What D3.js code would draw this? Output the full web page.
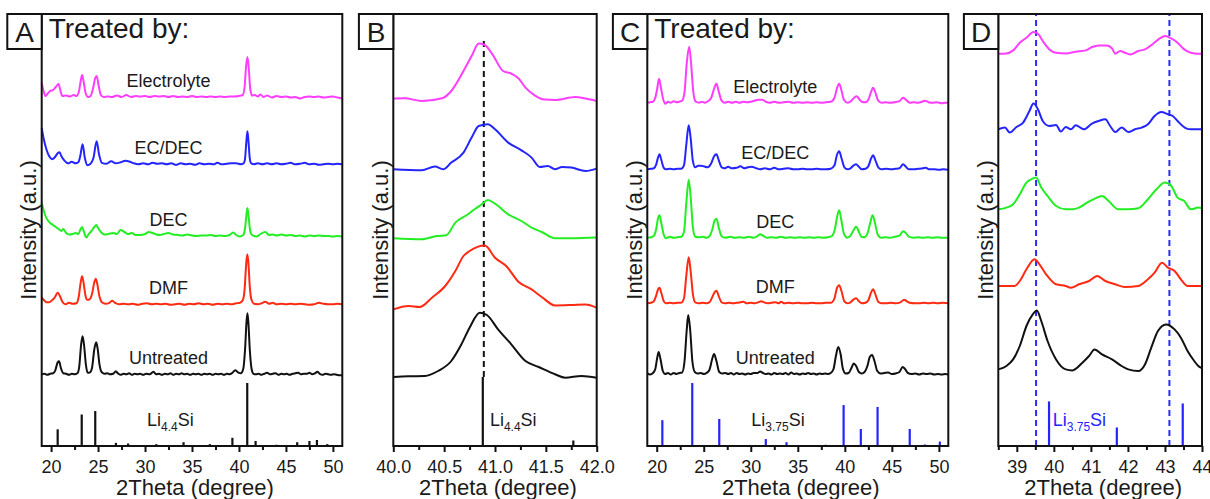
<!DOCTYPE html>
<html>
<head>
<meta charset="utf-8">
<script src="https://cdn.jsdelivr.net/npm/d3@7"></script>
<style>
body { margin: 0; background: #fff; }
svg text { font-family: Arial, "Liberation Sans", sans-serif; fill: #1a1a1a; }
</style>
</head>
<body>
<svg id="chart" width="1210" height="499"></svg>
<script>
// Échantillons (du haut vers le bas)
const sampleNames = ['Electrolyte', 'EC/DEC', 'DEC', 'DMF', 'Untreated'];
const sampleColors = ['#ff3dff', '#2424ff', '#22ee22', '#ff2a12', '#111111'];

// Décalages verticaux des courbes (unités d'intensité arbitraires)
const offsetsA = [349, 281.7, 210, 141.7, 71.7];
const offsetsB = [346.7, 276.7, 206.7, 138.3, 69];
const offsetsC = [343.3, 276.7, 208.3, 142.7, 72];
const offsetsD = [392.3, 316.7, 236.7, 160, 78.3];

// Raies de référence [2theta, intensité relative]
const li44Sticks = [[20.7,26.5],[23.26,50],[24.7,55.5],[26.9,5],[28.2,4],[31.2,3],[34.1,6],[36.9,3],[39.3,13],[40.88,100],[41.77,8],[44.0,2],[46.2,6],[47.5,8],[48.3,9.5],[49.4,3]];
const li375Sticks = [[20.6,41],[23.78,100],[26.65,43],[31.6,11],[33.8,6],[37.96,2],[39.87,65],[41.7,27],[43.48,62],[46.9,27],[48.5,2.5],[50.1,7]];
const dashB = [40.89];
const dashD = [39.52, 43.12];

// Graduations
const ticksAC = [20, 25, 30, 35, 40, 45, 50];
const minorAC = [22.5, 27.5, 32.5, 37.5, 42.5, 47.5];
const ticksB = [40.0, 40.5, 41.0, 41.5, 42.0];
const minorB = [40.25, 40.75, 41.25, 41.75];
const ticksD = [39, 40, 41, 42, 43, 44];
const minorD = [38.5, 39.5, 40.5, 41.5, 42.5, 43.5];

// Panneau A : diagrammes larges (Li4.4Si)
const aMagenta = [[19.0,14],[19.2,6],[19.4,1],[19.6,3],[19.9,6],[20.2,7],[20.5,10],[20.8,13],[21.0,6],[21.2,1],[21.6,1.5],[22.0,0.5],[22.4,2],[22.7,1],[22.95,5],[23.15,16],[23.3,22],[23.45,16],[23.7,3],[23.95,0],[24.2,1],[24.45,8],[24.7,19],[24.85,21],[25.05,12],[25.3,2],[25.6,0],[26.0,0.5],[26.5,0],[27.0,1.5],[27.5,0],[28.0,2],[28.5,0],[29.0,1],[29.5,0.5],[30.0,1],[30.5,0],[31.0,1],[31.5,0.5],[32.0,1],[32.5,0],[33.0,1],[33.5,0],[34.0,0.5],[34.5,0],[35.0,1],[35.5,0],[36.0,0.5],[36.5,0],[37.0,0.5],[37.5,0],[38.0,0.5],[38.5,0],[39.0,0.5],[39.5,0.5],[40.0,1],[40.4,2],[40.6,10],[40.75,30],[40.9,40],[41.05,28],[41.2,8],[41.4,1.5],[41.7,2],[42.0,0.5],[42.3,2.5],[42.6,0],[43.0,1.5],[43.5,-0.5],[44.0,1],[44.5,0],[45.0,0.5],[45.5,-0.5],[46.0,0],[46.5,-1.5],[47.0,0],[47.5,0.5],[48.0,0],[48.5,0.5],[49.0,-0.5],[49.5,0],[50.0,0.5],[50.5,-0.5],[51.0,-1.5]];
const aBlue = [[19.0,36],[19.2,26],[19.5,15],[19.8,8],[20.1,5],[20.4,7],[20.7,11],[20.9,12],[21.1,8],[21.4,4],[21.8,1],[22.2,2.5],[22.6,1],[22.9,2],[23.1,8],[23.35,20],[23.6,6],[23.85,-1],[24.2,0.5],[24.5,6],[24.85,23],[25.1,10],[25.4,1.5],[25.9,0.5],[26.4,3],[26.9,1],[27.4,2],[27.9,3.5],[28.4,2.5],[28.8,1],[29.3,0],[29.8,1],[30.3,0],[30.8,1.5],[31.3,0.5],[31.8,1],[32.3,0],[32.8,1],[33.3,-0.5],[33.8,1],[34.3,0],[34.8,0.5],[35.3,-0.5],[35.8,1],[36.3,0],[36.8,0.5],[37.3,0],[37.7,1.5],[38.2,0],[38.7,0.5],[39.2,1],[39.7,1],[40.2,0],[40.5,1],[40.65,6],[40.78,22],[40.9,33],[41.02,22],[41.15,6],[41.3,1],[41.6,0],[42.0,1],[42.5,0],[43.0,1],[43.5,0],[44.0,1],[44.5,0],[45.0,0.5],[45.5,1.5],[46.0,0],[46.5,0.5],[47.0,1.5],[47.5,0],[48.0,0.5],[48.5,-0.5],[49.0,0],[49.5,0.5],[50.0,0],[50.5,0.5],[51.0,0]];
const aGreen = [[19.0,33],[19.2,26],[19.4,20],[19.7,15],[19.9,13],[20.2,11],[20.5,9],[20.8,7],[21.1,5],[21.3,7],[21.6,3],[21.9,1.5],[22.3,2],[22.6,3],[22.9,2],[23.1,6],[23.3,9],[23.5,4],[23.75,-1.5],[24.0,2],[24.3,5],[24.6,9],[24.8,11],[25.0,8],[25.3,4],[25.7,1.5],[26.1,2],[26.6,3],[27.0,2],[27.4,6],[27.8,4],[28.2,2],[28.6,3],[29.0,1],[29.5,1],[30.0,2],[30.4,4],[30.8,3],[31.2,1.5],[31.6,1],[32.0,2],[32.5,3],[33.0,1.5],[33.5,1],[34.0,0.5],[34.5,1.5],[35.0,0.5],[35.5,0],[36.0,0.5],[36.5,0.5],[37.0,1],[37.5,0],[38.0,0.5],[38.5,0],[39.0,1],[39.4,3.5],[39.7,1],[40.1,-0.5],[40.45,1],[40.65,8],[40.78,20],[40.9,28],[41.02,20],[41.15,8],[41.3,2],[41.6,0],[41.9,-0.5],[42.3,2],[42.8,4],[43.2,1],[43.6,1.5],[44.0,0.5],[44.5,1.5],[45.0,0.5],[45.5,1],[46.0,0],[46.5,0.5],[47.0,-0.5],[47.5,0.5],[48.0,0],[48.5,0.5],[49.0,0],[49.5,0],[50.0,-0.5],[50.5,0],[51.0,-0.5]];
const aRed = [[19.0,7],[19.25,4],[19.5,2],[19.8,2],[20.1,4],[20.4,7],[20.7,11.5],[20.95,8],[21.2,2.5],[21.5,0],[21.9,1.5],[22.3,0.5],[22.7,1],[22.95,8],[23.15,22],[23.3,28],[23.45,22],[23.65,9],[23.85,4.5],[24.1,5],[24.35,10],[24.6,22],[24.75,25.5],[24.9,21],[25.15,8],[25.4,2],[25.8,0.5],[26.2,1.5],[26.5,3.5],[26.8,1.5],[27.2,0],[27.7,0.5],[28.2,0],[28.7,0.5],[29.2,-0.5],[29.7,0.5],[30.2,1],[30.7,0],[31.2,0.5],[31.7,0],[32.2,0.5],[32.7,-0.5],[33.2,0],[33.7,0.5],[34.2,-0.5],[34.7,0.5],[35.2,0],[35.7,1],[36.2,0],[36.7,0.5],[37.2,-0.5],[37.7,0.5],[38.2,0],[38.7,0.5],[39.2,0],[39.7,1],[40.1,1.5],[40.4,4],[40.6,15],[40.75,38],[40.88,50],[41.0,42],[41.15,18],[41.35,4],[41.6,0.5],[42.0,0],[42.4,1],[42.8,2.5],[43.2,0.5],[43.6,1.5],[44.0,0],[44.5,0.5],[45.0,0],[45.5,0.5],[46.0,0],[46.5,0.5],[47.0,0],[47.5,-0.5],[48.0,0],[48.5,1.5],[49.0,0.5],[49.5,0],[50.0,0],[50.5,0.5],[51.0,0]];
const aBlack = [[19.0,0],[19.3,0.5],[19.6,-0.5],[19.9,0.5],[20.2,1],[20.45,4],[20.7,12],[20.85,13],[21.05,6],[21.3,1],[21.6,0.5],[21.9,-0.5],[22.2,0.5],[22.5,0],[22.8,1],[23.0,8],[23.2,30],[23.35,38],[23.5,30],[23.7,10],[23.9,1.5],[24.15,2],[24.35,6],[24.6,25],[24.8,32],[24.95,26],[25.15,10],[25.4,2],[25.7,0.5],[26.0,1],[26.3,0],[26.6,0.5],[26.9,3],[27.1,1],[27.4,-0.5],[27.7,0.5],[28.0,0],[28.3,1],[28.6,-0.5],[28.9,0.5],[29.2,0],[29.5,0.5],[29.8,-0.5],[30.1,0.5],[30.5,0],[30.9,2.5],[31.2,0],[31.5,0.5],[31.8,-0.5],[32.1,0.5],[32.4,0],[32.7,1],[33.0,-0.5],[33.3,0.5],[33.6,0],[33.9,1],[34.2,0],[34.5,0.5],[34.8,-0.5],[35.1,0.5],[35.4,0],[35.7,0.5],[36.0,-0.5],[36.3,0.5],[36.6,0],[36.9,0.5],[37.2,-0.5],[37.5,0.5],[37.8,0],[38.1,0.5],[38.4,-0.5],[38.7,0.5],[39.0,0],[39.3,1.5],[39.6,4],[39.9,2],[40.2,1],[40.45,5],[40.65,25],[40.8,52],[40.9,61],[41.0,52],[41.15,25],[41.35,5],[41.55,0.5],[41.8,0],[42.1,0.5],[42.4,-0.5],[42.7,0.5],[43.0,1.5],[43.3,0],[43.6,0.5],[43.9,1],[44.2,-0.5],[44.5,0.5],[44.8,0],[45.1,0.5],[45.4,-0.5],[45.7,0.5],[46.0,1],[46.3,1.5],[46.6,0],[46.9,0.5],[47.2,0.5],[47.5,1.5],[47.8,0],[48.1,1],[48.35,2.5],[48.6,0.5],[48.9,-0.5],[49.2,0.5],[49.5,0],[49.8,-0.5],[50.1,0],[50.4,-0.5],[50.7,-1],[51.0,-1]];

// Panneau B : zoom 40-42°
const bMagenta = [[40.0,0.7],[40.11,1],[40.28,-1.7],[40.48,1],[40.57,8.3],[40.69,28.3],[40.77,43.3],[40.84,55.7],[40.9,54.3],[40.97,45.7],[41.08,28.3],[41.16,25.7],[41.23,21],[41.3,11.7],[41.39,4],[41.49,-0.3],[41.59,-0.7],[41.79,2.3],[41.89,0.7],[42.0,-1.7]];
const bBlue = [[40.0,0],[40.28,-1],[40.41,2.7],[40.49,0],[40.57,6.7],[40.69,16.7],[40.77,31.7],[40.84,43.3],[40.93,45],[41.0,40],[41.13,26.7],[41.26,19],[41.36,11.7],[41.44,2.3],[41.52,3.3],[41.59,0],[41.66,2.3],[41.75,1.7],[41.89,-1.7],[42.0,0.7]];
const bGreen = [[40.0,1],[40.28,0],[40.43,3.3],[40.52,4],[40.61,16.7],[40.72,24],[40.8,30],[40.87,35],[40.93,39.3],[41.0,35.7],[41.13,25],[41.26,18.3],[41.36,11.7],[41.46,7.3],[41.59,1],[41.75,1],[42.0,1.7]];
const bRed = [[40.0,-1.7],[40.15,1.7],[40.26,0.7],[40.38,10],[40.51,21.7],[40.61,36.7],[40.69,51.7],[40.75,56.7],[40.9,62.3],[41.0,50],[41.11,41.7],[41.23,26],[41.36,18.3],[41.46,10.7],[41.59,2.3],[41.75,2.7],[41.89,3.3],[42.0,0]];
const bBlack = [[40.0,0],[40.15,0.7],[40.31,1],[40.44,6],[40.57,16],[40.67,32.7],[40.75,49.3],[40.85,64.3],[40.92,62],[41.03,47.7],[41.16,32.7],[41.3,16],[41.43,10],[41.59,2.7],[41.69,-0.7],[41.85,1],[42.0,-0.7]];

// Panneau C : diagrammes larges (Li3.75Si)
const cMagenta = [[19.0,0],[19.3,0.5],[19.6,1],[19.85,5],[20.05,14],[20.25,24],[20.45,15],[20.7,3],[20.95,-1],[21.2,1],[21.5,0],[21.8,1.5],[22.1,0.5],[22.4,1],[22.7,2],[22.95,10],[23.2,40],[23.45,56],[23.65,40],[23.9,10],[24.15,1],[24.5,0],[24.8,1],[25.1,0],[25.45,1.5],[25.8,5],[26.1,14],[26.35,19],[26.6,11],[26.9,2],[27.2,0],[27.6,1],[28.0,0],[28.4,1],[28.8,0],[29.2,1],[29.6,0.5],[30.0,1],[30.4,2],[30.8,3],[31.2,3],[31.6,1],[32.0,0],[32.5,1],[33.0,0],[33.5,0.5],[34.0,1],[34.5,0],[35.0,0.5],[35.5,0],[36.0,0.5],[36.5,0],[37.0,0.5],[37.5,0],[38.0,0.5],[38.5,1],[38.9,5],[39.15,14],[39.4,19],[39.65,12],[39.9,3],[40.3,0],[40.7,2],[41.0,5],[41.25,6.5],[41.5,4],[41.8,1],[42.2,0.5],[42.5,3],[42.8,11],[43.0,15],[43.25,10],[43.55,2],[43.9,0],[44.3,0.5],[44.8,0],[45.3,0.5],[45.8,1.5],[46.2,5],[46.5,3],[46.9,0],[47.3,0.5],[47.8,0],[48.2,1],[48.5,2],[48.9,0.5],[49.3,0],[49.8,0.5],[50.3,-0.5],[50.7,0],[51.0,0]];
const cBlue = [[19.0,0],[19.4,0.5],[19.7,1],[19.95,5],[20.15,12],[20.3,15],[20.5,9],[20.75,1.5],[21.0,0],[21.4,0.5],[21.8,0],[22.2,0.5],[22.6,0.5],[22.9,4],[23.15,25],[23.4,44],[23.6,32],[23.85,8],[24.1,2],[24.4,3.5],[24.7,3.5],[25.0,3],[25.4,2],[25.8,6],[26.1,13],[26.35,15],[26.6,9],[26.9,2],[27.2,1],[27.6,2.5],[28.0,1],[28.5,1.5],[28.9,3],[29.3,1],[29.7,2],[30.1,2.5],[30.6,1],[31.0,0],[31.5,1],[32.0,0],[32.5,1.5],[33.0,0],[33.5,0.5],[34.0,1],[34.5,0],[35.0,0],[35.5,0.5],[36.0,0],[36.5,0],[37.0,0.5],[37.5,0],[38.0,0],[38.5,0.5],[38.9,4],[39.15,14],[39.4,18],[39.65,11],[39.95,2],[40.3,0],[40.6,1],[40.95,4],[41.2,5],[41.5,2.5],[41.8,0],[42.2,0.5],[42.5,3],[42.8,11],[43.0,14],[43.25,9],[43.55,2],[43.9,0],[44.4,0.5],[44.9,0],[45.4,0.5],[45.8,1],[46.2,5],[46.45,3],[46.8,0],[47.3,0],[47.8,0.5],[48.3,1],[48.6,1.5],[49.0,0],[49.5,0],[50.0,-0.5],[50.5,0],[51.0,-0.5]];
const cGreen = [[19.0,0],[19.4,0.5],[19.7,2],[19.95,9],[20.15,20],[20.3,22.5],[20.5,14],[20.75,3],[21.0,-0.5],[21.4,1],[21.8,0],[22.2,0.5],[22.6,1],[22.9,6],[23.15,35],[23.4,58],[23.6,42],[23.85,10],[24.1,1],[24.5,0.5],[24.9,1],[25.3,0],[25.6,1.5],[25.9,8],[26.15,17],[26.35,19],[26.6,10],[26.9,1.5],[27.3,0],[27.8,1],[28.3,0],[28.8,0.5],[29.3,0],[29.8,1],[30.3,0],[30.7,1.5],[31.0,3.5],[31.3,2],[31.7,0],[32.2,0.5],[32.7,0],[33.2,1],[33.7,0],[34.2,0.5],[34.7,0],[35.2,0.5],[35.7,0],[36.2,0.5],[36.7,0],[37.2,0.5],[37.7,0],[38.2,0.5],[38.6,1.5],[38.95,9],[39.2,22],[39.4,27.5],[39.6,19],[39.9,4],[40.25,0],[40.6,2],[40.95,8],[41.2,11],[41.45,7],[41.75,1],[42.1,0.5],[42.4,4],[42.7,15],[42.95,22.5],[43.2,15],[43.5,3],[43.85,0],[44.3,0.5],[44.8,0],[45.3,1],[45.8,2],[46.2,6.5],[46.45,5],[46.8,1],[47.3,0],[47.8,0.5],[48.3,0],[48.8,0.5],[49.3,0],[49.8,0.5],[50.3,0],[51.0,0]];
const cRed = [[19.0,0],[19.4,0.5],[19.7,2],[19.95,8],[20.15,14],[20.3,15.5],[20.5,10],[20.75,2],[21.0,0],[21.4,0.5],[21.8,0],[22.2,0.5],[22.6,0.5],[22.9,5],[23.15,28],[23.4,46],[23.6,33],[23.85,9],[24.1,1],[24.5,0],[24.9,0.5],[25.3,0],[25.6,1],[25.9,6],[26.15,11],[26.35,12.5],[26.6,7],[26.9,1],[27.3,0],[27.7,0.5],[28.1,0],[28.5,0.5],[28.9,1],[29.2,1.5],[29.6,0],[30.0,0.5],[30.4,0],[30.8,1],[31.1,2],[31.4,1],[31.8,0],[32.2,0.5],[32.6,1],[33.0,0],[33.2,1.5],[33.6,0],[34.0,0.5],[34.5,0],[35.0,0.5],[35.5,0],[36.0,0],[36.5,0.5],[37.0,0],[37.5,0],[38.0,0.5],[38.5,0.5],[38.9,5],[39.15,15],[39.4,18],[39.65,12],[39.95,2],[40.3,0],[40.6,1],[40.95,4],[41.2,5],[41.5,2],[41.8,0],[42.2,0.5],[42.5,3],[42.8,11],[43.0,14],[43.25,9],[43.55,1.5],[43.9,0],[44.4,0],[44.9,0.5],[45.4,0],[45.9,1],[46.3,3.5],[46.6,2],[46.9,0.5],[47.4,0],[47.9,0],[48.4,0.5],[48.9,0],[49.4,0.5],[49.9,0],[50.4,0.5],[51.0,0]];
const cBlack = [[19.0,0.5],[19.3,-0.5],[19.6,1],[19.85,5],[20.05,16],[20.2,22],[20.4,15],[20.65,3],[20.9,0],[21.2,1],[21.5,-0.5],[21.8,1],[22.1,0],[22.4,1],[22.7,1.5],[22.95,12],[23.2,45],[23.35,59],[23.55,45],[23.8,12],[24.05,2],[24.35,0.5],[24.7,1],[25.0,0],[25.3,1],[25.6,4],[25.9,15],[26.1,20],[26.35,13],[26.65,2],[26.95,0.5],[27.3,1],[27.6,0],[27.9,1],[28.2,-0.5],[28.5,1],[28.8,0],[29.1,0.5],[29.4,-0.5],[29.7,0.5],[30.0,0],[30.3,1],[30.7,1],[31.0,2.5],[31.3,1],[31.6,0],[31.9,0.5],[32.2,-0.5],[32.5,1],[32.8,0],[33.1,0.5],[33.4,0],[33.7,1],[34.0,-0.5],[34.3,1.5],[34.6,0],[34.9,0.5],[35.2,-0.5],[35.5,0.5],[35.8,0],[36.1,1],[36.4,0],[36.7,0.5],[37.0,-0.5],[37.3,0.5],[37.6,0],[37.9,0.5],[38.2,0],[38.5,1],[38.8,5],[39.05,18],[39.3,27],[39.55,20],[39.8,5],[40.1,0.5],[40.4,1],[40.7,6],[40.95,10.5],[41.2,8],[41.5,2],[41.8,0.5],[42.1,2],[42.4,8],[42.65,17],[42.9,19],[43.15,13],[43.45,3],[43.8,0.5],[44.2,1],[44.6,1.5],[45.0,0],[45.4,0.5],[45.8,2],[46.15,7],[46.4,5],[46.7,1],[47.1,0],[47.5,0.5],[47.9,-0.5],[48.3,0.5],[48.7,0],[49.1,0.5],[49.5,-0.5],[49.9,0],[50.3,-0.5],[50.7,0],[51.0,-0.5]];

// Panneau D : zoom 38.5-44°
const dMagenta = [[38.5,0],[38.72,0.3],[38.9,3.3],[39.08,11],[39.26,16],[39.45,21.7],[39.57,20],[39.7,12.7],[39.88,4.3],[40.06,1],[40.32,0.3],[40.59,2],[40.86,3.3],[41.03,6.7],[41.21,8.3],[41.43,8.3],[41.57,5.3],[41.66,0],[41.79,2.7],[41.92,1],[42.06,-0.7],[42.28,2.7],[42.46,4.3],[42.68,10],[42.86,15.3],[43.0,17.7],[43.17,15.3],[43.34,11],[43.52,4.3],[43.7,1],[43.9,0],[44.0,0]];
const dBlue = [[38.5,0],[38.68,1.7],[38.81,-3.3],[38.99,2.3],[39.17,6.7],[39.34,18.3],[39.45,25.7],[39.57,20],[39.7,8.3],[39.88,3.3],[40.06,4.3],[40.19,-2.3],[40.32,2.3],[40.46,0],[40.59,4],[40.81,0],[41.03,5.7],[41.21,8.3],[41.39,10],[41.52,3.3],[41.66,-2.7],[41.83,1.7],[42.01,-2.7],[42.19,0],[42.37,1.7],[42.54,5],[42.72,13.3],[42.9,17.3],[43.08,15],[43.21,13.3],[43.34,8.3],[43.57,1],[43.7,0],[44.0,0]];
const dGreen = [[38.5,0],[38.72,1.7],[38.9,5],[39.08,15],[39.26,26.7],[39.39,30],[39.52,31.7],[39.66,21.7],[39.83,13.3],[40.06,3.3],[40.32,0],[40.5,0],[40.68,1.7],[40.9,6.7],[41.12,11],[41.3,13.3],[41.48,8.3],[41.74,0],[42.01,0],[42.28,1],[42.54,10],[42.77,20],[43.0,26.7],[43.17,23.3],[43.34,11.7],[43.52,8.3],[43.7,0],[43.9,1.7],[44.0,1]];
const dRed = [[38.5,0],[38.94,0],[39.08,5],[39.26,16.7],[39.48,26.7],[39.61,21.7],[39.79,11.7],[40.06,1.7],[40.32,0],[40.46,-1.7],[40.68,1.7],[40.95,5],[41.17,10],[41.39,5],[41.66,1.7],[41.92,-1],[42.28,0],[42.54,6.7],[42.72,13.3],[42.92,23.3],[43.08,18.3],[43.26,15],[43.43,6.7],[43.61,0],[44.0,0]];
const dBlack = [[38.5,-1.7],[38.72,1.7],[38.9,8.3],[39.08,21.7],[39.26,41.7],[39.43,53.3],[39.54,57.3],[39.66,46.7],[39.83,26.7],[40.06,8.3],[40.32,-1.7],[40.5,-2.7],[40.77,5],[40.95,11.7],[41.1,18.3],[41.3,13.3],[41.57,8.3],[41.83,1.7],[42.01,-1.7],[42.28,-3.3],[42.46,3.3],[42.63,20],[42.81,36.7],[43.03,43.3],[43.26,38.3],[43.43,30],[43.61,16.7],[43.79,6.7],[43.9,1.7],[44.0,-0.5]];

// Mise en page
const plotTop = 14, plotBottom = 446;
const svg = d3.select('#chart');

const panels = [
    { letter: 'A', left: 41.7, right: 342.3, domain: [19, 51], ticks: ticksAC, minor: minorAC, fmt: d3.format('d'),
      series: [aMagenta, aBlue, aGreen, aRed, aBlack], offsets: offsetsA, treated: true, labelX: 32.5,
      sticks: li44Sticks, stickScale: 0.63, stickColor: '#111', phase: ['4.4', 'middle', 32.7] },
    { letter: 'B', left: 393.3, right: 596.7, domain: [40, 42], ticks: ticksB, minor: minorB, fmt: d3.format('.1f'),
      series: [bMagenta, bBlue, bGreen, bRed, bBlack], offsets: offsetsB, treated: false,
      sticks: li44Sticks, stickScale: 0.69, stickColor: '#111', phase: ['4.4', 'start', 40.95],
      dashes: dashB, dashColor: '#111', dashFrom: 69, dashTo: 405 },
    { letter: 'C', left: 647.3, right: 948.3, domain: [19, 51], ticks: ticksAC, minor: minorAC, fmt: d3.format('d'),
      series: [cMagenta, cBlue, cGreen, cRed, cBlack], offsets: offsetsC, treated: true, labelX: 32.6,
      sticks: li375Sticks, stickScale: 0.63, stickColor: '#2424ff', phase: ['3.75', 'middle', 32.9] },
    { letter: 'D', left: 998.3, right: 1202, domain: [38.5, 44], ticks: ticksD, minor: minorD, fmt: d3.format('d'),
      series: [dMagenta, dBlue, dGreen, dRed, dBlack], offsets: offsetsD, treated: false,
      sticks: li375Sticks, stickScale: 0.686, stickColor: '#2424ff', phase: ['3.75', 'start', 39.97], phaseColor: '#2424ff',
      dashes: dashD, dashColor: '#2a2aff', dashFrom: 0, dashTo: plotBottom - plotTop }
];

function drawPanel(p) {
    const x = d3.scaleLinear().domain(p.domain).range([p.left, p.right]);
    const y = d3.scaleLinear().domain([0, plotBottom - plotTop]).range([plotBottom, plotTop]);
    const g = svg.append('g');

    // Raies de référence
    const sticks = p.sticks.filter(d => d[0] >= p.domain[0] && d[0] <= p.domain[1]);
    g.selectAll('.stick').data(sticks).enter().append('line')
        .attr('x1', d => x(d[0])).attr('x2', d => x(d[0]))
        .attr('y1', y(0)).attr('y2', d => y(d[1] * p.stickScale))
        .attr('stroke', p.stickColor).attr('stroke-width', 2.2);

    // Lignes pointillées
    if (p.dashes) {
        g.selectAll('.dash').data(p.dashes).enter().append('line')
            .attr('x1', d => x(d)).attr('x2', d => x(d))
            .attr('y1', y(p.dashFrom)).attr('y2', y(p.dashTo))
            .attr('stroke', p.dashColor).attr('stroke-width', 2)
            .attr('stroke-dasharray', '6,4');
    }

    // Courbes
    p.series.forEach((s, i) => {
        const line = d3.line()
            .x(d => x(d[0]))
            .y(d => y(d[1] + p.offsets[i]))
            .curve(d3.curveMonotoneX);
        g.append('path').datum(s)
            .attr('d', line)
            .attr('fill', 'none')
            .attr('stroke', sampleColors[i])
            .attr('stroke-width', 2)
            .attr('stroke-linejoin', 'round');
        if (p.treated) {
            g.append('text')
                .attr('x', x(p.labelX)).attr('y', y(p.offsets[i] + 16))
                .attr('text-anchor', 'middle').attr('dominant-baseline', 'central')
                .attr('font-size', '18px').text(sampleNames[i]);
        }
    });

    // Étiquette de phase
    const ph = g.append('text')
        .attr('x', x(p.phase[2])).attr('y', y(20))
        .attr('text-anchor', p.phase[1])
        .attr('font-size', '18px');
    if (p.phaseColor) ph.style('fill', p.phaseColor);
    ph.append('tspan').text('Li');
    ph.append('tspan').attr('font-size', '12px').attr('dy', 5).text(p.phase[0]);
    ph.append('tspan').attr('dy', -5).text('Si');

    // Cadre
    g.append('rect')
        .attr('x', p.left).attr('y', plotTop)
        .attr('width', p.right - p.left).attr('height', plotBottom - plotTop)
        .attr('fill', 'none').attr('stroke', '#111').attr('stroke-width', 2);

    // Axe X
    const axis = g.append('g').attr('transform', `translate(0,${plotBottom})`)
        .call(d3.axisBottom(x).tickValues(p.ticks).tickFormat(p.fmt).tickSize(6).tickPadding(8));
    axis.select('.domain').remove();
    axis.selectAll('line').attr('stroke', '#111').attr('stroke-width', 2);
    axis.selectAll('text').attr('font-size', '18px').attr('font-family', 'Arial, "Liberation Sans", sans-serif');

    const minorAxis = g.append('g').attr('transform', `translate(0,${plotBottom})`)
        .call(d3.axisBottom(x).tickValues(p.minor).tickFormat('').tickSize(4));
    minorAxis.select('.domain').remove();
    minorAxis.selectAll('line').attr('stroke', '#111').attr('stroke-width', 2);

    g.append('text')
        .attr('x', (p.left + p.right) / 2 + 3).attr('y', 495)
        .attr('text-anchor', 'middle').attr('font-size', '22px')
        .text('2Theta (degree)');

    // Axe Y
    g.append('text')
        .attr('transform', `translate(${p.left - 13},230) rotate(-90)`)
        .attr('text-anchor', 'middle').attr('dominant-baseline', 'central')
        .attr('font-size', '22px')
        .text('Intensity (a.u.)');

    // Lettre du panneau
    g.append('rect')
        .attr('x', p.left - 34.4).attr('y', plotTop)
        .attr('width', 34.4).attr('height', 35)
        .attr('fill', '#fff').attr('stroke', '#111').attr('stroke-width', 2);
    g.append('text')
        .attr('x', p.left - 17.2).attr('y', plotTop + 28)
        .attr('text-anchor', 'middle').attr('font-size', '28px')
        .text(p.letter);

    if (p.treated) {
        g.append('text')
            .attr('x', p.left + 7).attr('y', 38)
            .attr('font-size', '28px')
            .text('Treated by:');
    }
}

panels.forEach(drawPanel);
</script>
</body>
</html>
